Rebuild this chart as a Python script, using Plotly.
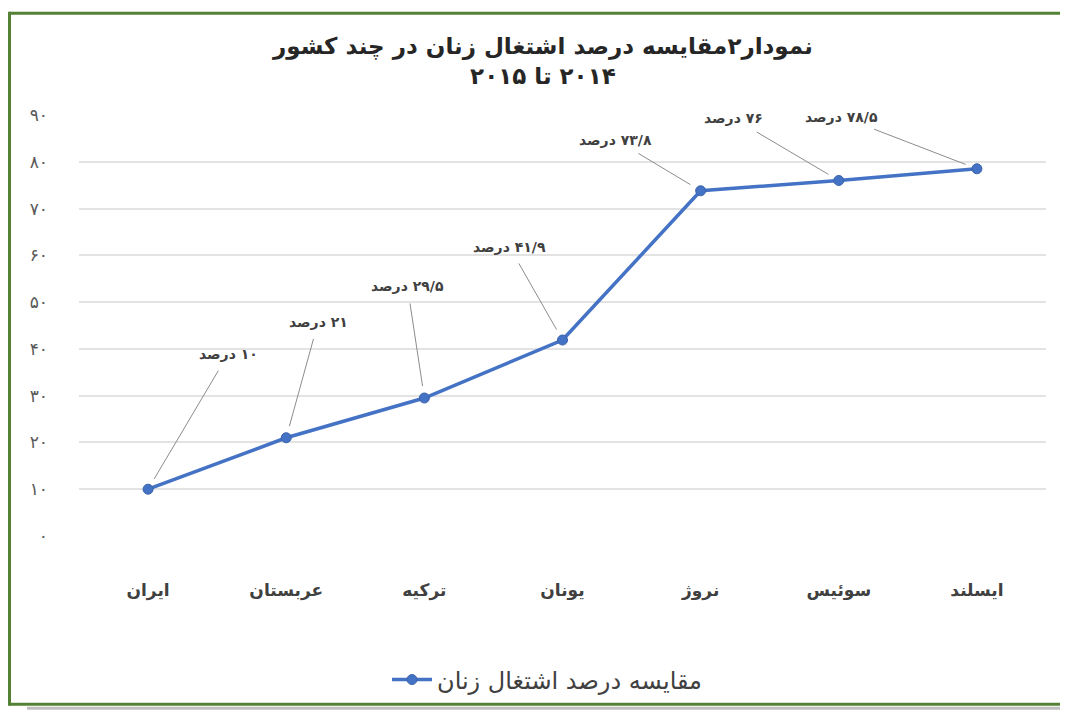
import plotly.graph_objects as go

categories = ["ایران", "عربستان", "ترکیه", "یونان", "نروژ", "سوئیس", "ایسلند"]
values = [10, 21, 29.5, 41.9, 73.8, 76, 78.5]
value_labels = ["۱۰ درصد", "۲۱ درصد", "۲۹/۵ درصد", "۴۱/۹ درصد", "۷۳/۸ درصد", "۷۶ درصد", "۷۸/۵ درصد"]
tick_vals = [0, 10, 20, 30, 40, 50, 60, 70, 80, 90]
tick_text = ["۰", "۱۰", "۲۰", "۳۰", "۴۰", "۵۰", "۶۰", "۷۰", "۸۰", "۹۰"]
series_name = "مقایسه درصد اشتغال زنان"
title_lines = ["نمودار۲مقایسه درصد اشتغال زنان در چند کشور", "۲۰۱۴ تا ۲۰۱۵"]

# label offsets (pixels) relative to each point
label_offsets = [(80, -135), (32, -116), (-17, -112), (-53, -93), (-85, -51), (-105, -62), (-135, -52)]

RLM = "\u200f"
FONT = "DejaVu Sans"
BLUE = "#4472C4"
TXT = "#404040"
GREEN = "#538135"

# page body has an 8px margin; target coordinates below are in screenshot pixels
OFF = 8
FIG_W, FIG_H = 1068 - OFF, 714 - OFF
W0, W1, H0, H1 = 79, 1046, 115, 539  # plot area in screenshot pixels


def px(x):
    return (x - W0) / (W1 - W0)


def py(y):
    return (H1 - y) / (H1 - H0)


fig = go.Figure()
fig.add_trace(go.Scatter(
    x=categories, y=values, mode="lines+markers", name=series_name,
    line=dict(color=BLUE, width=3.5),
    marker=dict(color=BLUE, size=10, line=dict(color="#3a62a8", width=1)),
))

anns = []
for c, v, t, (ax, ay) in zip(categories, values, value_labels, label_offsets):
    anns.append(dict(
        x=c, y=v, xref="x", yref="y", text="<b>" + RLM + t + "</b>", showarrow=True,
        arrowhead=0, arrowwidth=1, arrowcolor="#8c8c8c",
        ax=ax, ay=ay, standoff=12, startstandoff=8,
        font=dict(family=FONT, size=14, color=TXT),
    ))

anns.append(dict(
    text="<b>" + RLM + title_lines[0] + "</b><br><b>" + RLM + title_lines[1] + "</b>",
    xref="paper", yref="paper", x=px(542), y=py(61), xanchor="center", yanchor="middle",
    showarrow=False, font=dict(family=FONT, size=23, color="#262626"),
))

shapes = [
    dict(type="rect", xref="paper", yref="paper", x0=px(27), x1=px(1067), y0=py(714), y1=py(711),
         fillcolor="#bfbfbf", line=dict(width=0), layer="below"),
    dict(type="line", xref="paper", yref="paper", x0=px(9.5), x1=px(1067), y0=py(12.5), y1=py(12.5),
         line=dict(color=GREEN, width=3), layer="above"),
    dict(type="line", xref="paper", yref="paper", x0=px(9.5), x1=px(9.5), y0=py(11), y1=py(710),
         line=dict(color=GREEN, width=3), layer="above"),
    dict(type="line", xref="paper", yref="paper", x0=px(9.5), x1=px(1067), y0=py(708.5), y1=py(708.5),
         line=dict(color=GREEN, width=3), layer="above"),
]

fig.update_layout(
    width=FIG_W, height=FIG_H,
    margin=dict(l=W0 - OFF, r=FIG_W - (W1 - OFF), t=H0 - OFF, b=FIG_H - (H1 - OFF)),
    paper_bgcolor="white", plot_bgcolor="white",
    font=dict(family=FONT, color=TXT),
    showlegend=True,
    legend=dict(orientation="h", x=px(547), y=py(684), xanchor="center", yanchor="middle",
                font=dict(family=FONT, size=24, color=TXT), itemwidth=40),
    annotations=anns,
    shapes=shapes,
    xaxis=dict(range=[-0.5, len(categories) - 0.5], showgrid=False, showline=False,
               zeroline=False, ticks="",
               tickvals=categories, ticktext=["<b>" + c + "</b>" for c in categories],
               tickfont=dict(family=FONT, size=17, color=TXT), ticklabelstandoff=42,
               fixedrange=True),
    yaxis=dict(range=[0, 90], tickvals=tick_vals, ticktext=tick_text,
               showgrid=True, gridcolor="#e3e3e3", gridwidth=1.5, zeroline=False,
               showline=False, ticks="", ticklabelstandoff=30,
               tickfont=dict(family=FONT, size=17, color="#595959"), fixedrange=True),
)

fig.write_html("out.html")
